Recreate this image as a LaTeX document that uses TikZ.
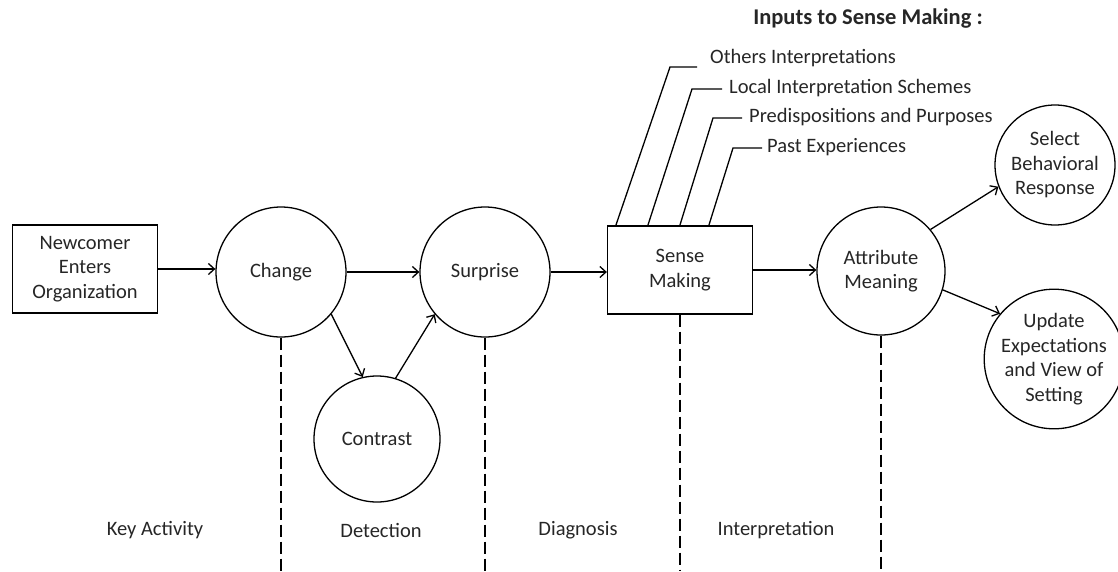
\documentclass[tikz,border=0pt]{standalone}
\usepackage{fontspec}
\setmainfont{Carlito}
\usetikzlibrary{arrows.meta}
\begin{document}
\begin{tikzpicture}[x=1pt,y=-1pt,
  font=\fontsize{20.5}{24.5}\selectfont,
  every node/.style={text=black!85},
  circ/.style={draw, circle, line width=1.3pt, minimum size=130pt, inner sep=0pt, align=center},
  boxn/.style={draw, rectangle, line width=1.3pt, minimum width=145pt, minimum height=88pt, align=center},
  arr/.style={line width=1.3pt, -{Straight Barb[length=6pt,width=11pt]}},
  guide/.style={line width=1.3pt, dash pattern=on 12pt off 5pt},
  inp/.style={line width=1.3pt},
  lbl/.style={anchor=west, inner sep=0pt}]
\useasboundingbox (0,0) rectangle (1118,571);
\coordinate (bot) at (0,571);

% main nodes
\node[boxn] (new) at (85,269) {Newcomer\\Enters\\Organization};
\node[circ] (change) at (281,272) {Change};
\node[circ] (surprise) at (485,272) {Surprise};
\node[circ, minimum size=126pt] (contrast) at (377,439) {Contrast};
\node[boxn] (sense) at (680,270) {Sense\\Making};
\node[circ, minimum size=128pt] (attr) at (881,271) {Attribute\\Meaning};
\node[circ, minimum size=120pt] (select) at (1055,165) {Select\\Behavioral\\Response};
\node[circ, minimum size=118pt] (update) at (1054,359) {Update\\Expectations\\and View of\\Setting};

% arrows
\draw[arr] (new.east) -- (new.east -| change.west);
\draw[arr] (change.east) -- (surprise.west);
\draw[arr] (change.-40) -- (contrast.103);
\draw[arr] (contrast.73) -- (surprise.220);
\draw[arr] (surprise.east) -- (surprise.east -| sense.west);
\draw[arr] (sense.east) -- (sense.east -| attr.west);
\draw[arr] (attr.40) -- (select.201);
\draw[arr] (attr.-17) -- (update.140);

% dashed stage dividers
\draw[guide] (change.south) -- (change.south |- bot);
\draw[guide] (surprise.south) -- (surprise.south |- bot);
\draw[guide] (sense.south) -- (sense.south |- bot);
\draw[guide] (attr.south) -- (attr.south |- bot);

% stage labels
\node (ka) at (155,530) {Key Activity};
\node (det) at (381,530) {Detection};
\node (dia) at (578,530) {Diagnosis};
\node (int) at (776,530) {Interpretation};

% inputs to sense making
\node[font=\fontsize{22.5}{26}\selectfont\bfseries] (title) at (868,19) {Inputs to Sense Making :};
\node[lbl] (i1) at (710,58) {Others Interpretations};
\node[lbl] (i2) at (729,88) {Local Interpretation Schemes};
\node[lbl] (i3) at (749,117) {Predispositions and Purposes};
\node[lbl] (i4) at (767,147) {Past Experiences};
\coordinate (c1) at (670,67);
\coordinate (c2) at (692,89);
\coordinate (c3) at (713,118);
\coordinate (c4) at (733,148);
\coordinate (e1) at (697,67);
\coordinate (e2) at (722,89);
\coordinate (e3) at (742,118);
\coordinate (e4) at (762,148);
\draw[inp] ([xshift=9pt]sense.north west) -- (c1) -- (e1);
\draw[inp] ([xshift=41pt]sense.north west) -- (c2) -- (e2);
\draw[inp] ([xshift=73pt]sense.north west) -- (c3) -- (e3);
\draw[inp] ([xshift=102pt]sense.north west) -- (c4) -- (e4);
\end{tikzpicture}
\end{document}
